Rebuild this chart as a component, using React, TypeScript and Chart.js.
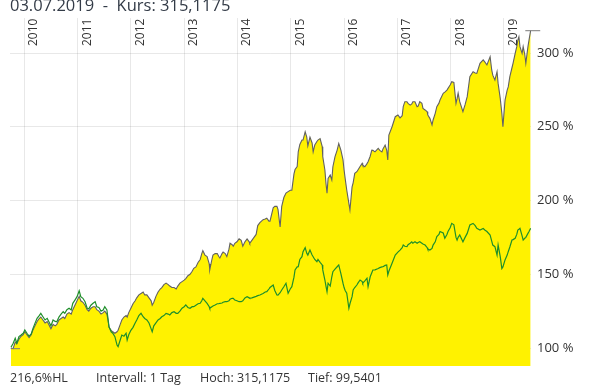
import React, { useEffect, useRef } from 'react';
import { Chart, registerables } from 'chart.js';

Chart.register(...registerables);
Chart.defaults.font.family = '"Open Sans", sans-serif';

// ---- data (decimal years) ----
const DATES = [
  2009.75, 2009.79, 2009.83, 2009.86, 2009.90, 2009.94, 2009.98, 2010.01, 2010.05, 2010.09,
  2010.13, 2010.16, 2010.20, 2010.24, 2010.28, 2010.31, 2010.35, 2010.39, 2010.43, 2010.46,
  2010.50, 2010.54, 2010.58, 2010.61, 2010.65, 2010.69, 2010.73, 2010.76, 2010.80, 2010.84,
  2010.88, 2010.91, 2010.95, 2010.99, 2011.03, 2011.06, 2011.10, 2011.14, 2011.18, 2011.21,
  2011.25, 2011.29, 2011.33, 2011.36, 2011.40, 2011.44, 2011.48, 2011.51, 2011.55, 2011.57,
  2011.59, 2011.63, 2011.66, 2011.70, 2011.74, 2011.76, 2011.80, 2011.83, 2011.87, 2011.91,
  2011.93, 2011.96, 2012.00, 2012.04, 2012.08, 2012.11, 2012.15, 2012.19, 2012.23, 2012.26,
  2012.30, 2012.34, 2012.38, 2012.40, 2012.43, 2012.47, 2012.51, 2012.55, 2012.58, 2012.62,
  2012.66, 2012.70, 2012.73, 2012.77, 2012.81, 2012.85, 2012.88, 2012.92, 2012.96, 2013.00,
  2013.03, 2013.07, 2013.11, 2013.15, 2013.18, 2013.22, 2013.26, 2013.30, 2013.33, 2013.35,
  2013.39, 2013.43, 2013.47, 2013.48, 2013.52, 2013.54, 2013.58, 2013.62, 2013.65, 2013.67,
  2013.71, 2013.73, 2013.77, 2013.80, 2013.84, 2013.86, 2013.90, 2013.92, 2013.95, 2013.99,
  2014.03, 2014.07, 2014.10, 2014.14, 2014.18, 2014.22, 2014.23, 2014.27, 2014.31, 2014.35,
  2014.38, 2014.42, 2014.48, 2014.52, 2014.55, 2014.59, 2014.61, 2014.67, 2014.70, 2014.74,
  2014.76, 2014.80, 2014.83, 2014.87, 2014.91, 2014.95, 2014.99, 2015.02, 2015.06, 2015.08,
  2015.12, 2015.14, 2015.17, 2015.21, 2015.23, 2015.27, 2015.30, 2015.32, 2015.36, 2015.40,
  2015.42, 2015.45, 2015.49, 2015.51, 2015.55, 2015.59, 2015.60, 2015.64, 2015.66, 2015.68,
  2015.70, 2015.74, 2015.77, 2015.79, 2015.83, 2015.87, 2015.90, 2015.94, 2015.98, 2016.00,
  2016.02, 2016.05, 2016.09, 2016.11, 2016.15, 2016.17, 2016.20, 2016.24, 2016.26, 2016.30,
  2016.34, 2016.35, 2016.39, 2016.43, 2016.45, 2016.49, 2016.52, 2016.54, 2016.58, 2016.64,
  2016.67, 2016.71, 2016.73, 2016.77, 2016.80, 2016.82, 2016.84, 2016.90, 2016.96, 2017.01,
  2017.05, 2017.09, 2017.11, 2017.14, 2017.18, 2017.20, 2017.24, 2017.27, 2017.29, 2017.33,
  2017.37, 2017.39, 2017.42, 2017.46, 2017.48, 2017.52, 2017.56, 2017.57, 2017.61, 2017.65,
  2017.67, 2017.71, 2017.74, 2017.78, 2017.80, 2017.86, 2017.89, 2017.93, 2017.95, 2017.99,
  2018.02, 2018.06, 2018.10, 2018.12, 2018.14, 2018.17, 2018.23, 2018.27, 2018.31, 2018.36,
  2018.42, 2018.46, 2018.49, 2018.55, 2018.61, 2018.64, 2018.68, 2018.74, 2018.77, 2018.79,
  2018.83, 2018.87, 2018.89, 2018.93, 2018.96, 2018.98, 2019.02, 2019.06, 2019.08, 2019.11,
  2019.15, 2019.17, 2019.21, 2019.24, 2019.26, 2019.28, 2019.30, 2019.34, 2019.36, 2019.39,
  2019.41, 2019.45, 2019.47, 2019.50,
];

const FUND = [
  100.0, 99.54, 104.0, 103.0, 106.0, 108.0, 109.0, 111.0, 109.0, 107.0,
  109.0, 112.0, 115.0, 118.0, 120.0, 121.0, 119.0, 117.0, 118.0, 116.0,
  113.0, 116.0, 115.0, 116.0, 119.0, 120.0, 121.0, 120.0, 123.0, 124.0,
  123.0, 126.0, 129.0, 132.0, 135.0, 132.0, 131.0, 129.0, 126.0, 125.0,
  127.0, 128.0, 128.0, 126.0, 125.0, 123.0, 124.0, 125.0, 123.0, 119.0,
  114.0, 112.0, 111.0, 110.0, 111.0, 112.0, 116.0, 119.0, 121.0, 122.0,
  121.0, 124.0, 127.0, 130.0, 132.0, 134.0, 136.0, 137.0, 138.0, 136.0,
  136.0, 134.0, 132.0, 129.0, 131.0, 135.0, 138.0, 140.0, 141.0, 143.0,
  144.0, 143.0, 142.0, 141.0, 141.0, 140.0, 142.0, 144.0, 145.0, 146.0,
  147.0, 149.0, 150.0, 152.0, 154.0, 155.0, 158.0, 160.0, 164.0, 166.0,
  163.0, 162.0, 157.0, 153.0, 160.0, 163.0, 164.0, 164.0, 162.0, 161.0,
  164.0, 165.0, 164.0, 162.0, 167.0, 171.0, 170.0, 169.0, 171.0, 172.0,
  174.0, 173.0, 169.0, 172.0, 174.0, 172.0, 171.0, 173.0, 175.0, 177.0,
  183.0, 185.0, 187.0, 187.5, 188.0, 186.0, 186.0, 195.0, 196.0, 196.0,
  194.0, 182.0, 196.0, 202.0, 205.0, 206.0, 207.0, 207.0, 218.0, 221.0,
  223.0, 233.0, 238.0, 241.0, 241.0, 246.6, 243.0, 237.0, 243.0, 239.0,
  233.0, 237.6, 240.0, 241.0, 242.0, 236.5, 229.7, 220.7, 211.7, 205.0,
  215.0, 217.3, 213.9, 222.9, 229.7, 234.2, 238.7, 234.2, 227.5, 220.7,
  215.0, 207.1, 198.1, 193.6, 209.3, 212.0, 218.4, 219.5, 220.7, 223.0,
  225.2, 224.0, 222.9, 225.0, 226.3, 230.0, 234.2, 234.0, 233.0, 235.3,
  234.0, 233.0, 235.0, 237.6, 234.0, 227.5, 244.4, 250.0, 256.8, 258.0,
  256.0, 257.5, 263.6, 267.0, 267.0, 265.9, 264.7, 265.5, 267.0, 267.0,
  263.6, 264.0, 267.0, 265.9, 262.5, 261.4, 260.2, 258.0, 255.7, 251.2,
  254.6, 259.1, 263.6, 266.0, 268.1, 272.7, 273.5, 274.9, 276.0, 278.3,
  280.5, 280.0, 265.9, 269.0, 272.7, 267.0, 260.2, 265.0, 270.4, 284.0,
  287.3, 286.5, 286.2, 293.0, 295.3, 294.0, 291.9, 297.5, 288.5, 285.0,
  281.7, 287.3, 279.4, 269.2, 259.1, 250.0, 268.1, 274.9, 277.0, 284.0,
  290.0, 293.0, 299.8, 304.3, 308.8, 311.0, 304.3, 299.8, 304.3, 299.0,
  293.0, 304.3, 308.8, 315.1175,
];

const INDEX = [
  100.5, 103.0, 106.6, 103.2, 107.7, 108.8, 110.0, 112.2, 110.0, 108.0,
  109.5, 113.0, 116.7, 120.1, 122.0, 123.5, 121.2, 119.0, 120.1, 118.0,
  115.0, 119.0, 118.0, 117.8, 121.0, 123.0, 124.6, 123.5, 126.0, 126.9,
  125.8, 130.3, 132.5, 134.8, 138.8, 134.8, 133.7, 131.4, 127.0, 126.5,
  129.0, 130.3, 131.4, 128.0, 127.5, 125.0, 125.8, 128.0, 125.8, 120.1,
  114.4, 111.0, 110.0, 107.7, 102.0, 100.9, 105.4, 108.8, 108.0, 110.0,
  105.4, 109.0, 112.0, 114.0, 117.0, 119.0, 122.0, 123.5, 121.2, 120.0,
  119.0, 117.0, 113.0, 111.0, 115.0, 117.0, 119.0, 120.0, 121.2, 122.0,
  123.5, 123.0, 122.4, 124.0, 124.6, 123.5, 123.5, 125.0, 127.0, 128.0,
  129.2, 127.5, 126.9, 128.0, 128.0, 129.0, 130.0, 130.3, 132.0, 133.7,
  132.0, 130.3, 128.0, 126.9, 128.0, 128.5, 129.2, 130.0, 130.0, 130.3,
  130.5, 131.0, 131.4, 131.4, 132.0, 133.0, 133.7, 133.7, 132.5, 132.0,
  131.4, 131.4, 132.0, 134.0, 134.8, 134.0, 133.7, 134.0, 134.5, 135.0,
  135.5, 135.9, 137.0, 138.0, 138.2, 140.0, 141.0, 142.7, 139.0, 136.0,
  135.9, 137.5, 139.3, 141.5, 143.9, 137.1, 140.0, 141.6, 148.0, 152.9,
  155.0, 155.1, 160.0, 161.9, 165.3, 168.0, 164.2, 163.0, 166.4, 163.0,
  161.9, 160.0, 158.5, 160.0, 158.0, 156.3, 153.0, 146.1, 142.0, 138.2,
  143.9, 142.0, 148.3, 151.7, 153.5, 155.1, 156.3, 150.5, 143.9, 141.0,
  139.0, 137.1, 126.9, 130.0, 134.8, 139.3, 141.0, 142.7, 144.0, 146.1,
  145.0, 143.9, 145.5, 147.3, 141.6, 148.3, 151.0, 152.9, 153.0, 153.9,
  154.5, 155.0, 155.1, 156.0, 156.3, 149.5, 152.0, 157.4, 163.0, 165.0,
  166.4, 168.0, 169.8, 169.0, 168.7, 170.0, 171.0, 172.0, 171.0, 172.0,
  171.0, 171.5, 172.0, 171.0, 170.5, 169.8, 168.0, 167.0, 166.4, 167.5,
  169.8, 172.0, 175.5, 177.0, 179.0, 178.0, 174.4, 177.0, 179.0, 181.5,
  184.5, 183.5, 175.0, 173.2, 175.0, 176.6, 172.0, 175.0, 177.7, 183.4,
  184.5, 183.0, 181.1, 180.0, 181.0, 180.0, 179.0, 176.6, 172.5, 169.8,
  168.7, 163.0, 169.8, 161.9, 153.9, 155.0, 159.7, 163.0, 165.3, 168.5,
  173.2, 173.5, 174.4, 177.0, 180.0, 180.5, 181.1, 176.0, 173.2, 174.4,
  175.0, 177.7, 179.0, 181.1,
];

const YEARS = [2010, 2011, 2012, 2013, 2014, 2015, 2016, 2017, 2018, 2019];
const Y_TICKS = [100, 150, 200, 250, 300];
const HIGH = 315.1175;
const LOW = 99.5401;
const HIGH_MARK_DATES = [2019.40, 2019.68];
const LOW_MARK_DATES = [2009.75, 2009.92];
const TITLE = '03.07.2019  -  Kurs: 315,1175';
const FOOTER = ['216,6%HL', 'Intervall: 1 Tag', 'Hoch: 315,1175', 'Tief: 99,5401'];

// ---- scale ranges / styling ----
const X_MIN = 2009.732;
const X_MAX = 2019.507;
const Y_MIN = 87.8;
const Y_MAX = 323.73;
const GRID = 'rgba(0,0,0,0.09)';
const TEXT = '#333333';
const FOOTER_X = [10, 96, 200, 308];

const yearLabelPlugin = {
  id: 'yearLabels',
  afterDraw(chart: any) {
    const xs = chart.scales.x;
    const ctx = chart.ctx;
    ctx.save();
    ctx.font = '12px "Open Sans", sans-serif';
    ctx.fillStyle = TEXT;
    ctx.textAlign = 'left';
    ctx.textBaseline = 'middle';
    YEARS.forEach((yr) => {
      const px = xs.getPixelForValue(yr);
      ctx.save();
      ctx.translate(px + 9.5, 46);
      ctx.rotate(-Math.PI / 2);
      ctx.fillText(String(yr), 0, 0);
      ctx.restore();
    });
    ctx.restore();
  },
};

export default function App() {
  const ref = useRef<HTMLCanvasElement>(null);

  useEffect(() => {
    const canvas = ref.current;
    if (!canvas) return;
    const fundPts = DATES.map((d, i) => ({ x: d, y: FUND[i] }));
    const indexPts = DATES.map((d, i) => ({ x: d, y: INDEX[i] }));
    const chart = new Chart(canvas, {
      type: 'line',
      data: {
        datasets: [
          {
            label: 'Vergleich',
            data: indexPts,
            borderColor: '#1f8f2a',
            borderWidth: 1.2,
            pointRadius: 0,
            fill: false,
            tension: 0,
            order: 0,
          },
          {
            label: 'Kurs',
            data: fundPts,
            borderColor: '#616161',
            borderWidth: 1.1,
            backgroundColor: '#fff200',
            fill: 'start',
            pointRadius: 0,
            tension: 0,
            order: 1,
          },
          {
            label: 'Hoch',
            data: HIGH_MARK_DATES.map((d) => ({ x: d, y: HIGH })),
            borderColor: '#7a7a7a',
            borderWidth: 1,
            pointRadius: 0,
            fill: false,
            clip: false,
            order: 0,
          },
          {
            label: 'Tief',
            data: LOW_MARK_DATES.map((d) => ({ x: d, y: LOW })),
            borderColor: '#7a7a7a',
            borderWidth: 1,
            pointRadius: 0,
            fill: false,
            clip: false,
            order: 0,
          },
        ] as any,
      },
      options: {
        animation: false,
        responsive: false,
        maintainAspectRatio: false,
        events: [],
        layout: { padding: { left: 10, top: 18, bottom: 24, right: 0 } },
        plugins: {
          legend: { display: false },
          tooltip: { enabled: false },
        },
        scales: {
          x: {
            type: 'linear',
            position: 'top',
            min: X_MIN,
            max: X_MAX,
            z: 1,
            afterFit: (s: any) => {
              s.height = 0;
            },
            ticks: { display: false, stepSize: 1, autoSkip: false, includeBounds: false },
            grid: { color: GRID, drawTicks: false, lineWidth: 1 },
            border: { display: false },
          },
          y: {
            type: 'linear',
            position: 'right',
            min: Y_MIN,
            max: Y_MAX,
            z: 1,
            afterFit: (s: any) => {
              s.width = 58;
            },
            ticks: {
              stepSize: 50,
              includeBounds: false,
              padding: 6,
              color: TEXT,
              font: { size: 13, family: '"Open Sans", sans-serif' },
              callback: (v: any) => (Y_TICKS.includes(Number(v)) ? `${v} %` : ''),
            },
            grid: { color: GRID, drawTicks: false, lineWidth: 1 },
            border: { display: false },
          },
        },
      } as any,
      plugins: [yearLabelPlugin],
    });
    return () => chart.destroy();
  }, []);

  const fontFamily = '"Open Sans", sans-serif';
  return (
    <div
      style={{
        position: 'fixed',
        left: 0,
        top: 0,
        width: 589,
        height: 390,
        overflow: 'hidden',
        background: '#ffffff',
      }}
    >
      <canvas ref={ref} width={589} height={390} style={{ display: 'block', width: 589, height: 390 }} />
      <div
        style={{
          position: 'absolute',
          left: 10,
          top: -2.6,
          fontFamily,
          fontSize: 16.5,
          lineHeight: '16.5px',
          whiteSpace: 'pre',
          color: '#333b47',
        }}
      >
        {TITLE}
      </div>
      {FOOTER.map((t, i) => (
        <div
          key={t}
          style={{
            position: 'absolute',
            left: FOOTER_X[i],
            top: 371.9,
            fontFamily,
            fontSize: 12.5,
            lineHeight: '12.5px',
            whiteSpace: 'pre',
            color: TEXT,
          }}
        >
          {t}
        </div>
      ))}
    </div>
  );
}
